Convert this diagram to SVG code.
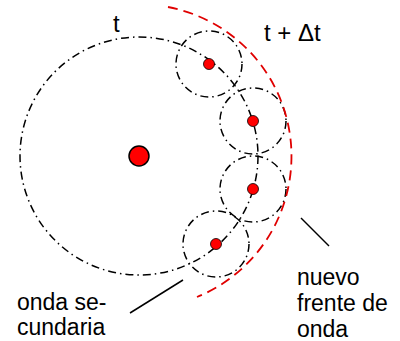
<svg xmlns="http://www.w3.org/2000/svg" width="400" height="341" viewBox="0 0 400 341">
<style>
.dd{fill:none;stroke:#000;stroke-width:1.5;stroke-dasharray:8 4 1.5 4}
.front{fill:none;stroke:#e00000;stroke-width:1.8;stroke-dasharray:10 6}
.dot{fill:#ff0000;stroke:#000;stroke-width:0.8}
.lead{stroke:#000;stroke-width:1.5}
text{font-family:"Liberation Sans",Arial,sans-serif;fill:#000}
</style>
<rect width="400" height="341" fill="#fff"/>
<g id="primary-wave">
<circle class="dd" cx="139" cy="156" r="119"/>
</g>
<g id="secondary-waves">
<circle class="dd" cx="209" cy="64" r="33"/>
<circle class="dd" cx="253" cy="121" r="33"/>
<circle class="dd" cx="253" cy="189" r="33"/>
<circle class="dd" cx="216" cy="244" r="33"/>
</g>
<g id="new-front">
<path class="front" d="M168 7 A152 152 0 0 1 197 297"/>
</g>
<g id="sources">
<circle cx="139" cy="156" r="10" fill="#ff0000" stroke="#000" stroke-width="1.5"/>
<circle class="dot" cx="209" cy="64" r="5.5"/>
<circle class="dot" cx="253" cy="121" r="5.5"/>
<circle class="dot" cx="253" cy="189" r="5.5"/>
<circle class="dot" cx="216" cy="244" r="5.5"/>
</g>
<g id="connectors">
<line class="lead" x1="183" y1="280" x2="130" y2="313"/>
<line class="lead" x1="301" y1="218" x2="329" y2="246"/>
</g>
<g id="labels">
<text x="113" y="32" font-size="24">t</text>
<text x="264" y="41" font-size="24">t + Δt</text>
<text x="17" y="310" font-size="23">onda se-</text>
<text x="17" y="335" font-size="23">cundaria</text>
<text x="297" y="285" font-size="23">nuevo</text>
<text x="297" y="311" font-size="23">frente de</text>
<text x="297" y="337" font-size="23">onda</text>
</g>
</svg>
